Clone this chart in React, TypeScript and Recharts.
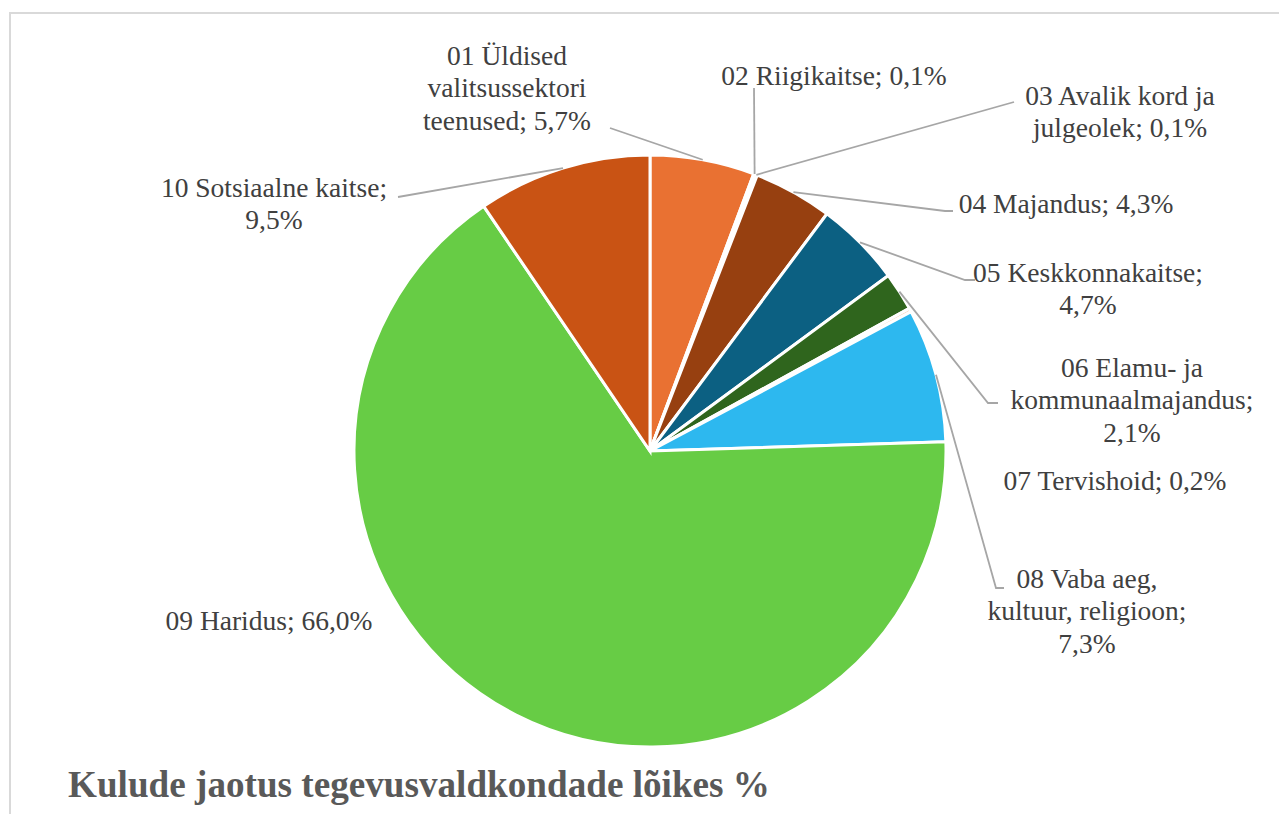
import React from "react"
import { PieChart, Pie, Cell } from "recharts"

const categories = [
  "01 Üldised valitsussektori teenused",
  "02 Riigikaitse",
  "03 Avalik kord ja julgeolek",
  "04 Majandus",
  "05 Keskkonnakaitse",
  "06 Elamu- ja kommunaalmajandus",
  "07 Tervishoid",
  "08 Vaba aeg, kultuur, religioon",
  "09 Haridus",
  "10 Sotsiaalne kaitse",
]
const shares = [5.7, 0.1, 0.1, 4.3, 4.7, 2.1, 0.2, 7.3, 66.0, 9.5]
const sliceColors = [
  "#E97132", "#F4B183", "#C55A11", "#974010", "#0C6082",
  "#2F651D", "#F8CBAD", "#2DB8EF", "#67CC45", "#C95314",
]
const title = "Kulude jaotus tegevusvaldkondade lõikes %"

// where each data label sits (center of first line), how words wrap, leader bends
const labelLayout = [
  { x: 507, y: 55, wrap: [2, 1, 2], bends: [[610, 128]] },
  { x: 834, y: 75, wrap: [4], bends: [[754, 88]] },
  { x: 1120, y: 95, wrap: [4, 2], bends: [[1014, 102]] },
  { x: 1066, y: 203, wrap: [4], bends: [[945, 211], [953, 211]] },
  { x: 1088, y: 272, wrap: [2, 1], bends: [[965, 280], [975, 280]] },
  { x: 1132, y: 367, wrap: [3, 1, 1], bends: [[988, 403], [998, 403]] },
  { x: 1115, y: 480, wrap: [4], bends: [] },
  { x: 1087, y: 578, wrap: [3, 2, 1], bends: [[996, 588], [1004, 588]] },
  { x: 269, y: 620, wrap: [4], bends: [] },
  { x: 274, y: 187, wrap: [3, 1], bends: [[398, 197]] },
]

const data = categories.map((name, i) => ({ name, value: shares[i] }))

const FONT = '"Liberation Serif", "Times New Roman", serif'
const RADIAN = Math.PI / 180

function splitLines(text: string, wrap: number[]) {
  const words = text.split(" ")
  const out: string[] = []
  let k = 0
  for (const n of wrap) {
    out.push(words.slice(k, k + n).join(" "))
    k += n
  }
  return out
}

function renderLabel(props: any) {
  const { cx, cy, midAngle, outerRadius, index } = props
  const lay = labelLayout[index]
  const text = `${categories[index]}; ${shares[index].toFixed(1).replace(".", ",")}%`
  const lines = splitLines(text, lay.wrap)
  const sx = cx + outerRadius * Math.cos(-midAngle * RADIAN)
  const sy = cy + outerRadius * Math.sin(-midAngle * RADIAN)
  const pts = [[sx, sy], ...lay.bends].map((p) => p.join(",")).join(" ")
  return (
    <g key={`lbl-${index}`} style={{ fontFamily: FONT }}>
      {lay.bends.length > 0 && (
        <polyline points={pts} fill="none" stroke="#A6A6A6" strokeWidth={1.8} />
      )}
      {lines.map((ln, j) => (
        <text
          key={j}
          x={lay.x}
          y={lay.y + j * 32.5}
          dy="0.35em"
          textAnchor="middle"
          fill="#404040"
          style={{ fontFamily: FONT, fontSize: 27.5 }}
        >
          {ln}
        </text>
      ))}
    </g>
  )
}

export default function App() {
  return (
    <div style={{ position: "absolute", left: 0, top: 0, width: 1279, height: 814, overflow: "hidden", background: "#fff", fontFamily: FONT }}>
      <div
        style={{
          position: "absolute",
          left: 9,
          top: 12,
          width: 1400,
          height: 900,
          border: "2px solid #D9D9D9",
        }}
      />
      <div style={{ position: "absolute", left: 0, top: 0 }}>
        <PieChart width={1279} height={814} margin={{ top: 0, right: 0, bottom: 0, left: 0 }}>
          <Pie
            data={data}
            dataKey="value"
            nameKey="name"
            cx={650}
            cy={451}
            outerRadius={296}
            startAngle={90}
            endAngle={-270}
            stroke="#FFFFFF"
            strokeWidth={3}
            label={renderLabel}
            labelLine={false}
            isAnimationActive={false}
          >
            {data.map((d, i) => (
              <Cell key={d.name} fill={sliceColors[i]} />
            ))}
          </Pie>
        </PieChart>
      </div>
      <svg width={1279} height={814} style={{ position: "absolute", left: 0, top: 0, pointerEvents: "none" }}>
        <text
          x={68}
          y={797}
          fontFamily={FONT}
          fontWeight="bold"
          fontSize={38}
          fill="#595959"
          textLength={702}
          lengthAdjust="spacingAndGlyphs"
        >
          {title}
        </text>
      </svg>
    </div>
  )
}
